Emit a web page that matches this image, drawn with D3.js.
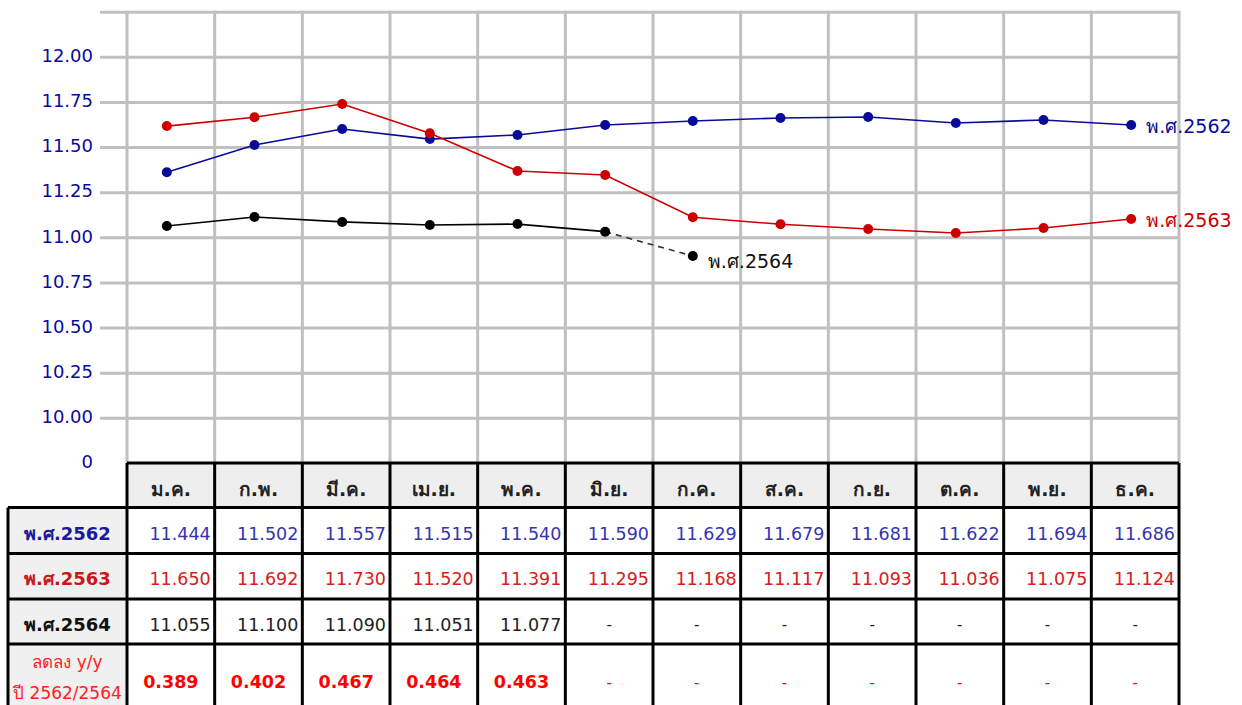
<!DOCTYPE html>
<html>
<head>
<meta charset="utf-8">
<script src="https://cdn.jsdelivr.net/npm/d3@7"></script>
<style>
  body { margin: 0; background: white; }
  svg { display: block; }
</style>
</head>
<body>
<svg id="chart" width="1242" height="705"></svg>
<script>
const width = 1242
const height = 705
const POLICE = 'Tahoma, "DejaVu Sans", sans-serif'

// Months (header of the table)
const mois = ['ม.ค.', 'ก.พ.', 'มี.ค.', 'เม.ย.', 'พ.ค.', 'มิ.ย.', 'ก.ค.', 'ส.ค.', 'ก.ย.', 'ต.ค.', 'พ.ย.', 'ธ.ค.']

// Plotted points
const points2562 = [11.363, 11.514, 11.603, 11.547, 11.570, 11.625, 11.647, 11.664, 11.669, 11.636, 11.653, 11.625]
const points2563 = [11.619, 11.668, 11.741, 11.579, 11.370, 11.348, 11.114, 11.075, 11.049, 11.027, 11.054, 11.104]
const points2564 = [11.065, 11.115, 11.088, 11.071, 11.076, 11.034, 10.899]

// Table values
const tableau2562 = ['11.444', '11.502', '11.557', '11.515', '11.540', '11.590', '11.629', '11.679', '11.681', '11.622', '11.694', '11.686']
const tableau2563 = ['11.650', '11.692', '11.730', '11.520', '11.391', '11.295', '11.168', '11.117', '11.093', '11.036', '11.075', '11.124']
const tableau2564 = ['11.055', '11.100', '11.090', '11.051', '11.077', '-', '-', '-', '-', '-', '-', '-']
const baisse = ['0.389', '0.402', '0.467', '0.464', '0.463', '-', '-', '-', '-', '-', '-', '-']

// Y axis ticks ("0" is the broken-axis bottom)
const yTicks = [9.75, 10, 10.25, 10.5, 10.75, 11, 11.25, 11.5, 11.75, 12]
const yGrid = [10, 10.25, 10.5, 10.75, 11, 11.25, 11.5, 11.75, 12, 12.25]

const BLEU = '#0a0a9a'
const ROUGE = '#cc0000'
const NOIR = '#000000'
const GRILLE = '#c0c0c0'

const svg = d3.select('#chart')

const x = d3.scaleBand().domain(mois).range([127, 1179])
const y = d3.scaleLinear().domain([9.75, 12.25]).range([463.4, 12.2])
const cx = i => x(mois[i]) + x.bandwidth() / 2 - 4

//Grille horizontale
svg.append('g').selectAll('line').data(yGrid).join('line')
    .attr('x1', 100).attr('x2', 1179).attr('y1', d => y(d)).attr('y2', d => y(d))
    .attr('stroke', GRILLE).attr('stroke-width', 3)

//Grille verticale
svg.append('g').selectAll('line').data(d3.range(mois.length + 1)).join('line')
    .attr('x1', i => 127 + i * x.bandwidth()).attr('x2', i => 127 + i * x.bandwidth())
    .attr('y1', y(12.25) - 1.5).attr('y2', 463)
    .attr('stroke', GRILLE).attr('stroke-width', 3)

//Axe Y
const axeY = d3.axisLeft(y).tickValues(yTicks).tickSize(0).tickPadding(7)
    .tickFormat(d => d === 9.75 ? '0' : d3.format('.2f')(d))
svg.append('g').attr('transform', 'translate(100,-1.5)').call(axeY)
    .call(g => g.select('.domain').remove())
    .selectAll('text').attr('font-family', POLICE).attr('font-size', 18).attr('fill', BLEU)

//Lignes
function placeSerie(valeurs, couleur, nbPleins) {
    const line = d3.line().x((d, i) => cx(i)).y(d => y(d))
    const pleins = valeurs.slice(0, nbPleins)
    svg.append('path').datum(pleins).attr('d', line)
        .attr('fill', 'none').attr('stroke', couleur).attr('stroke-width', 1.6)
    if (nbPleins < valeurs.length) {
        const pointilles = valeurs.slice(nbPleins - 1)
        const lineP = d3.line().x((d, i) => cx(i + nbPleins - 1)).y(d => y(d))
        svg.append('path').datum(pointilles).attr('d', lineP)
            .attr('fill', 'none').attr('stroke', '#333').attr('stroke-width', 1.6).attr('stroke-dasharray', '6,5')
    }
    svg.append('g').selectAll('circle').data(valeurs).join('circle')
        .attr('cx', (d, i) => cx(i)).attr('cy', d => y(d)).attr('r', 5)
        .attr('fill', couleur)
}
placeSerie(points2562, BLEU, points2562.length)
placeSerie(points2563, ROUGE, points2563.length)
placeSerie(points2564, NOIR, points2564.length - 1)

//Etiquettes des séries
const etiquettes = [
    { texte: 'พ.ศ.2562', valeurs: points2562, couleur: BLEU },
    { texte: 'พ.ศ.2563', valeurs: points2563, couleur: ROUGE },
    { texte: 'พ.ศ.2564', valeurs: points2564, couleur: '#111' }
]
etiquettes.forEach(e => {
    const i = e.valeurs.length - 1
    svg.append('text').text(e.texte)
        .attr('x', cx(i) + 15).attr('y', y(e.valeurs[i]) + (e.texte === 'พ.ศ.2564' ? 6 : 2))
        .attr('dominant-baseline', 'middle')
        .attr('font-family', POLICE).attr('font-size', 19).attr('fill', e.couleur)
})

//Tableau
const RANGEES = [463, 507.5, 553.5, 599, 644, 714]
const GAUCHE = 8
const lignes = [
    { titre: ['พ.ศ.2562'], couleurTitre: '#1a1a9a', valeurs: tableau2562, couleur: '#3535b0', gras: false },
    { titre: ['พ.ศ.2563'], couleurTitre: '#c81818', valeurs: tableau2563, couleur: '#d42020', gras: false },
    { titre: ['พ.ศ.2564'], couleurTitre: '#111', valeurs: tableau2564, couleur: '#222', gras: false },
    { titre: ['ลดลง y/y', 'ปี 2562/2564'], couleurTitre: '#ff2020', valeurs: baisse, couleur: '#ff0000', gras: true }
]
const tab = svg.append('g').attr('class', 'tableau')

//En-tête (mois)
tab.append('rect').attr('x', 127).attr('y', RANGEES[0]).attr('width', 1179 - 127).attr('height', RANGEES[1] - RANGEES[0]).attr('fill', '#eeeeee')
tab.append('rect').attr('x', GAUCHE).attr('y', RANGEES[1]).attr('width', 127 - GAUCHE).attr('height', RANGEES[5] - RANGEES[1]).attr('fill', '#f0f0f0')
tab.append('rect').attr('x', 127).attr('y', RANGEES[1]).attr('width', 1179 - 127).attr('height', RANGEES[5] - RANGEES[1]).attr('fill', 'white')

tab.selectAll('.mois').data(mois).join('text').attr('class', 'mois').text(d => d)
    .attr('x', d => x(d) + x.bandwidth() / 2).attr('y', (RANGEES[0] + RANGEES[1]) / 2 + 5)
    .attr('text-anchor', 'middle').attr('dominant-baseline', 'middle')
    .attr('font-family', POLICE).attr('font-size', 19).attr('font-weight', 'bold').attr('fill', '#222')

lignes.forEach((l, r) => {
    const haut = RANGEES[r + 1]
    const bas = RANGEES[r + 2]
    const milieu = (haut + bas) / 2
    //Titre de la rangée
    l.titre.forEach((t, k) => {
        tab.append('text').text(t)
            .attr('x', (GAUCHE + 127) / 2)
            .attr('y', l.titre.length === 1 ? milieu + 4 : milieu - 16 + k * 31)
            .attr('text-anchor', 'middle').attr('dominant-baseline', 'middle')
            .attr('font-family', POLICE).attr('font-size', l.titre.length === 1 ? 18 : 17)
            .attr('font-weight', l.titre.length === 1 ? 'bold' : 'normal').attr('fill', l.couleurTitre)
    })
    //Valeurs
    tab.append('g').selectAll('text').data(l.valeurs).join('text').text(d => d)
        .attr('x', (d, i) => (d === '-' || l.gras) ? x(mois[i]) + x.bandwidth() / 2 : x(mois[i]) + x.bandwidth() - 4)
        .attr('y', milieu + 4)
        .attr('text-anchor', d => (d === '-' || l.gras) ? 'middle' : 'end')
        .attr('dominant-baseline', 'middle')
        .attr('font-family', POLICE).attr('font-size', d => d === '-' ? 15 : 17.5)
        .attr('font-weight', d => (l.gras && d !== '-') ? 'bold' : 'normal')
        .attr('fill', l.couleur)
})

//Bordures du tableau
const bord = tab.append('g').attr('stroke', 'black').attr('stroke-width', 3)
bord.append('line').attr('x1', 127).attr('x2', 1179).attr('y1', RANGEES[0]).attr('y2', RANGEES[0])
RANGEES.slice(1, 5).forEach(r => {
    bord.append('line').attr('x1', GAUCHE).attr('x2', 1179).attr('y1', r).attr('y2', r)
})
bord.append('line').attr('x1', GAUCHE).attr('x2', GAUCHE).attr('y1', RANGEES[1]).attr('y2', 705)
d3.range(mois.length + 1).forEach(i => {
    const xi = 127 + i * x.bandwidth()
    bord.append('line').attr('x1', xi).attr('x2', xi).attr('y1', RANGEES[0]).attr('y2', 705)
})
</script>
</body>
</html>
